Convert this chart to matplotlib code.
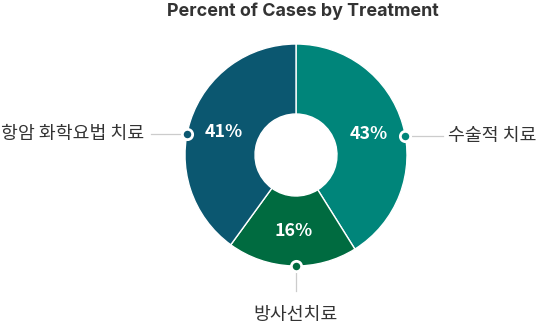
import numpy as np
import matplotlib
matplotlib.use('Agg')
from matplotlib import pyplot as plt

# data (wedge sizes as drawn, labels as printed)
treatments = ['수술적 치료', '방사선치료', '항암 화학요법 치료']
shares = [41.1, 18.9, 40.0]
pct_labels = ['43%', '16%', '41%']
colors = ['#00857a', '#006b40', '#0b5770']

W, H = 537, 325
CX, CY = 296, 325 - 155   # donut centre in pixels (y up)
R_OUT, R_IN = 111, 41

plt.rcParams['font.family'] = ['Noto Sans CJK KR', 'DejaVu Sans']

fig = plt.figure(figsize=(W / 100, H / 100), dpi=100)
ax = fig.add_axes([0, 0, 1, 1])

wedges, _ = ax.pie(shares, colors=colors, startangle=90, counterclock=False,
                   center=(CX, CY), radius=R_OUT,
                   wedgeprops=dict(width=R_OUT - R_IN, edgecolor='white', linewidth=1.0))
ax.set_xlim(0, W)
ax.set_ylim(0, H)
ax.set_aspect('equal')
ax.axis('off')

# percent labels in the middle of each ring segment
r_mid = (R_OUT + R_IN) / 2
for w, txt in zip(wedges, pct_labels):
	a = np.deg2rad((w.theta1 + w.theta2) / 2)
	ax.text(CX + r_mid * np.cos(a), CY + r_mid * np.sin(a), txt,
		color='white', fontsize=12.8, fontweight='bold', ha='center', va='center')

# connector dots, lines and category names
anchor_angles = [10, -90, 169]
for i, (ang, name) in enumerate(zip(anchor_angles, treatments)):
	a = np.deg2rad(ang)
	dx, dy = np.cos(a), np.sin(a)
	px, py = CX + R_OUT * dx, CY + R_OUT * dy
	if i == 1:
		ax.plot([px, px], [py - 6, py - 25], color='#cccccc', lw=0.9, zorder=3)
		ax.text(px, py - 49, name, fontsize=13.2, color='#333333', ha='center', va='center')
	elif dx > 0:
		ax.plot([px + 6, px + 38], [py, py], color='#cccccc', lw=0.9, zorder=3)
		ax.text(px + 43, py, name, fontsize=13.2, color='#333333', ha='left', va='center')
	else:
		ax.plot([px - 6, px - 36], [py, py], color='#cccccc', lw=0.9, zorder=3)
		ax.text(px - 43, py, name, fontsize=13.2, color='#333333', ha='right', va='center')
	ax.scatter([px], [py], s=55, color=colors[i], edgecolor='white', linewidth=2.0, zorder=5)

ax.text(303, H - 11, 'Percent of Cases by Treatment', family=['Inter', 'DejaVu Sans'],
	fontsize=12.9, fontweight='bold', color='#333333', ha='center', va='center')

plt.savefig('out.png', dpi=100)
